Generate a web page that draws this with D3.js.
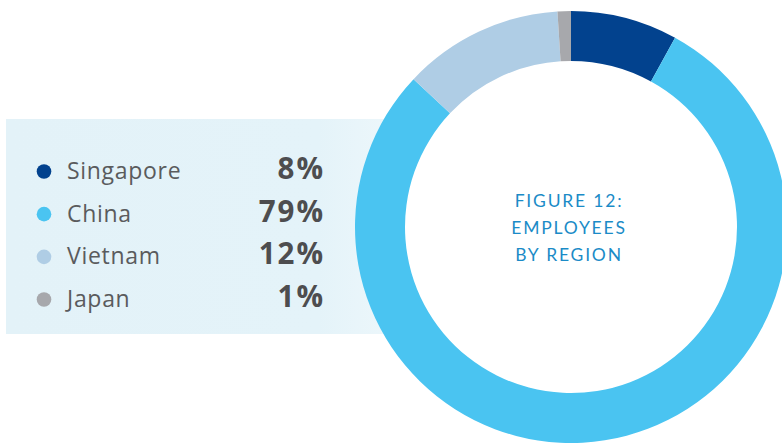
<!DOCTYPE html>
<html>
<head>
<meta charset="utf-8">
<script src="https://cdn.jsdelivr.net/npm/d3@7"></script>
<style>
  html, body { margin: 0; padding: 0; background: #ffffff; }
  svg { display: block; }
</style>
</head>
<body>
<svg id="chart" width="782" height="443"></svg>
<script>
// Employees by region (share of headcount, %)
const regions = ["Singapore", "China", "Vietnam", "Japan"];
const shares = [8, 79, 12, 1];
const regionColors = ["#02428e", "#4ac4f1", "#afcde5", "#a7a8ac"];
const titleLines = ["FIGURE 12:", "EMPLOYEES", "BY REGION"];

const svg = d3.select("#chart");

const defs = svg.append("defs");
const grad = defs.append("linearGradient").attr("id", "panelFade")
  .attr("x1", "0%").attr("x2", "100%").attr("y1", "0%").attr("y2", "0%");
grad.append("stop").attr("offset", "0%").attr("stop-color", "#e3f2f8");
grad.append("stop").attr("offset", "80%").attr("stop-color", "#e4f3f9");
grad.append("stop").attr("offset", "100%").attr("stop-color", "#edf7fb");

// Legend panel (runs underneath the ring)
const panel = { x: 6, y: 119, w: 390, h: 215 };
svg.append("rect")
  .attr("x", panel.x).attr("y", panel.y)
  .attr("width", panel.w).attr("height", panel.h)
  .attr("fill", "url(#panelFade)");

// Donut
const cx = 571, cy = 227, rOuter = 216, rInner = 166;
const pie = d3.pie().sort(null).value(d => d.value);
const arc = d3.arc().innerRadius(rInner).outerRadius(rOuter);
const data = regions.map((r, i) => ({ region: r, value: shares[i], color: regionColors[i] }));

const ring = svg.append("g").attr("transform", `translate(${cx},${cy})`);
ring.append("circle").attr("r", rInner).attr("fill", "#ffffff");
ring.selectAll("path.slice")
  .data(pie(data))
  .join("path")
  .attr("class", "slice")
  .attr("d", arc)
  .attr("fill", d => d.data.color);

// Title in the hole
const titleY = d3.scalePoint().domain(titleLines).range([207, 261]);
ring.append("g").selectAll("text")
  .data(titleLines)
  .join("text")
  .attr("x", -2)
  .attr("y", d => titleY(d) - cy)
  .attr("text-anchor", "middle")
  .attr("font-family", "Lato, 'Open Sans', sans-serif")
  .attr("font-size", 17.5)
  .attr("letter-spacing", 1.8)
  .attr("fill", "#1b8bc7")
  .text(d => d);

// Legend rows
const rowY = d3.scalePoint().domain(regions).range([179, 307]);
const legend = svg.append("g");
const rows = legend.selectAll("g.row").data(data).join("g").attr("class", "row");

rows.append("circle")
  .attr("cx", 44)
  .attr("cy", d => rowY(d.region) - 7.5)
  .attr("r", 7.3)
  .attr("fill", d => d.color);

rows.append("text")
  .attr("x", 67)
  .attr("y", d => rowY(d.region))
  .attr("font-family", "'Open Sans', Lato, sans-serif")
  .attr("font-size", 23)
  .attr("letter-spacing", 0.7)
  .attr("fill", "#5a5b5d")
  .text(d => d.region);

rows.append("text")
  .attr("x", 325)
  .attr("y", d => rowY(d.region))
  .attr("text-anchor", "end")
  .attr("font-family", "'Open Sans', Lato, sans-serif")
  .attr("font-weight", 700)
  .attr("font-size", 29.5)
  .attr("letter-spacing", 2)
  .attr("fill", "#4d4d4f")
  .text(d => d.value + "%");
</script>
</body>
</html>
